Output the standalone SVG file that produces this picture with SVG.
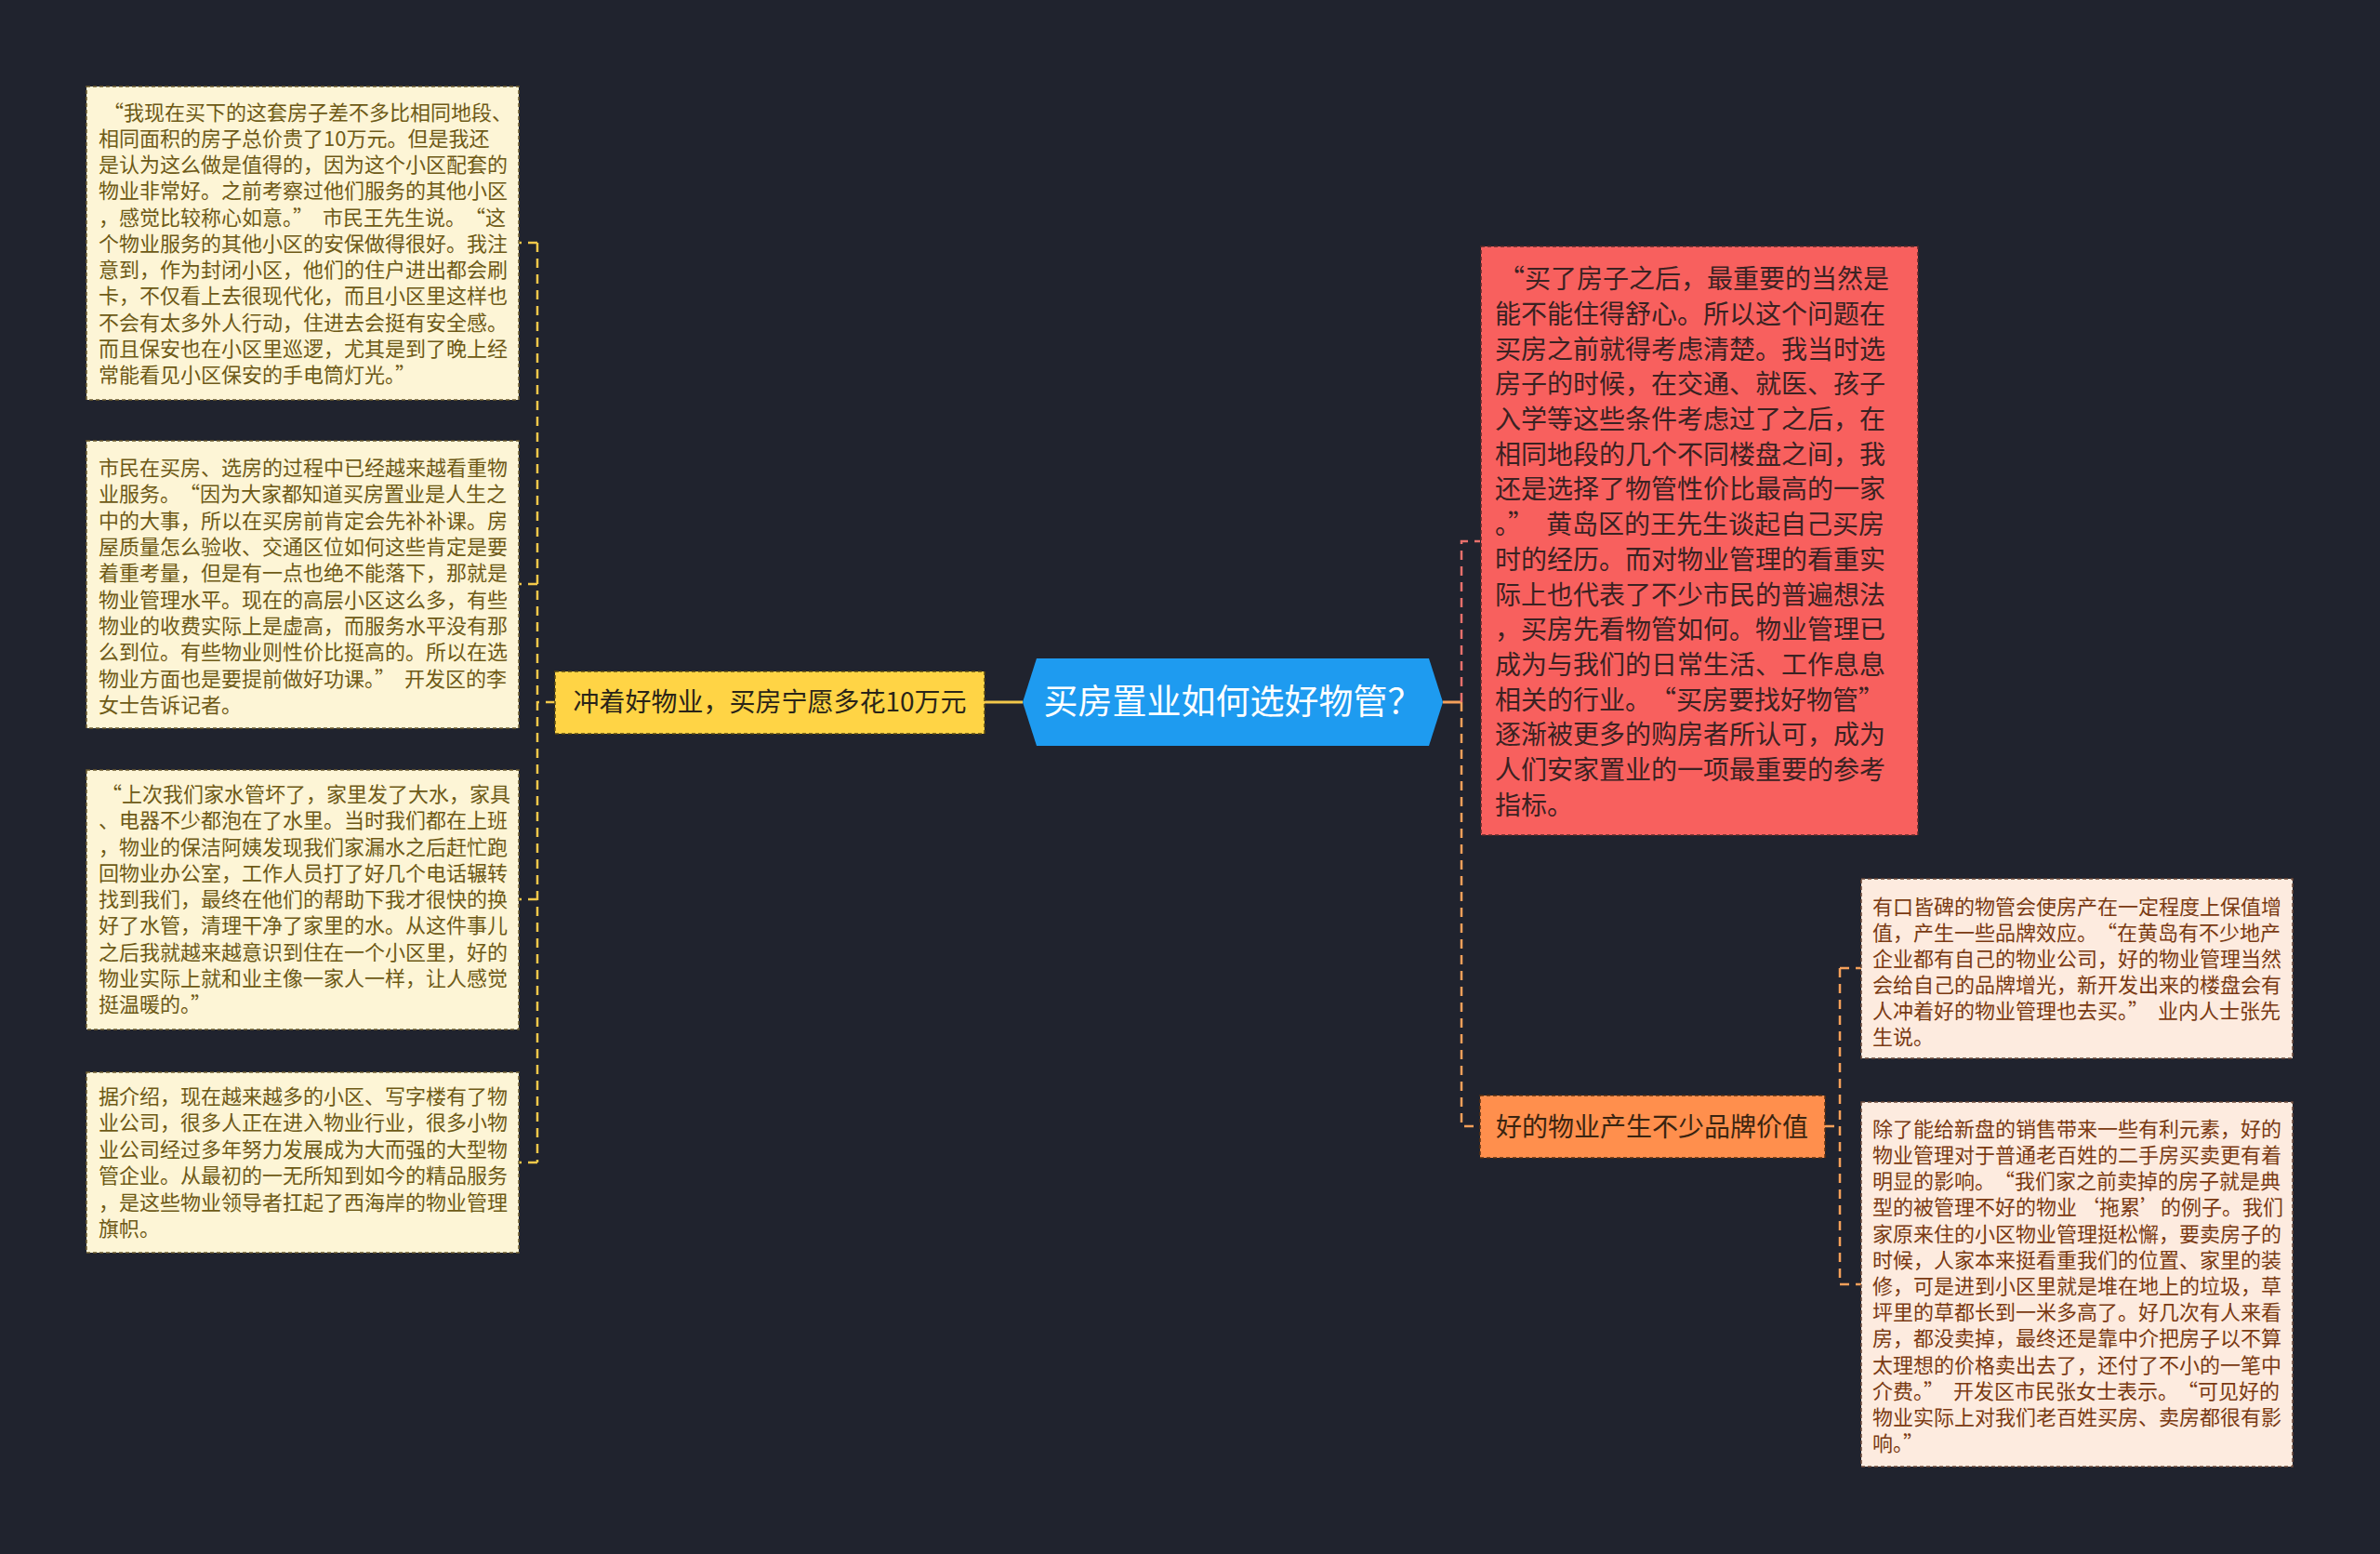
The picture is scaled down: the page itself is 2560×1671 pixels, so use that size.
<svg xmlns="http://www.w3.org/2000/svg" width="2560" height="1671" viewBox="0 0 2560 1671">
<style>
text{font-family:"Noto Sans CJK SC","Noto Sans",sans-serif;}
.lt{font-size:22px;fill:#6e5a16;}
.rt{font-size:22px;fill:#7a3a12;}
.redt{font-size:28px;fill:#3b2222;}
.lbox{fill:#fdf5d6;stroke:#6b5b2e;stroke-width:1.5;stroke-dasharray:4 3;}
.rbox{fill:#fdebdf;stroke:#6b4a3a;stroke-width:1.5;stroke-dasharray:4 3;}
.cy{fill:none;stroke:#f2c84a;stroke-width:2.5;stroke-dasharray:10 7;}
.cr{fill:none;stroke:#e8706c;stroke-width:2.5;stroke-dasharray:10 7;}
.co{fill:none;stroke:#f5a05a;stroke-width:2.5;stroke-dasharray:10 7;}
</style>
<rect x="0" y="0" width="2560" height="1671" fill="#20232e"/>
<g id="connectors">
<line x1="1059" y1="755" x2="1100" y2="755" stroke="#f2c84a" stroke-width="3"/>
<path class="cy" d="M597 755 H578"/>
<path class="cy" d="M578 261 V1250"/>
<path class="cy" d="M578 261 H558 M578 628 H558 M578 967 H558 M578 1250 H558"/>
<line x1="1552" y1="755" x2="1572" y2="755" stroke="#f5a05a" stroke-width="3"/>
<path class="cr" d="M1572 755 V582 H1592"/>
<path class="co" d="M1572 755 V1211 H1592"/>
<path class="co" d="M1963 1211 H1979 M1979 1041 V1381 M1979 1041 H2002 M1979 1381 H2002"/>
</g>
<g id="center">
<polygon points="1100,755 1115,708 1537,708 1552,755 1537,802 1115,802" fill="#1e9bf0"/>
<text x="1326" y="768" font-size="37" fill="#ffffff" text-anchor="middle">买房置业如何选好物管？</text>
</g>
<g id="yellow">
<rect x="597" y="722" width="462" height="67" fill="#ffd445" stroke="#5a4a10" stroke-width="1.5" stroke-dasharray="4 3"/>
<text x="828" y="765" font-size="28" fill="#2a2418" text-anchor="middle">冲着好物业，买房宁愿多花10万元</text>
</g>
<g id="left1">
<rect class="lbox" x="93" y="93" width="465" height="337"/>
<text class="lt"><tspan x="106" y="129"><tspan dx="5">“</tspan>我现在买下的这套房子差不多比相同地段、</tspan><tspan x="106" y="157">相同面积的房子总价贵了10万元。但是我还</tspan><tspan x="106" y="185">是认为这么做是值得的，因为这个小区配套的</tspan><tspan x="106" y="213">物业非常好。之前考察过他们服务的其他小区</tspan><tspan x="106" y="242">，感觉比较称心如意。”<tspan dx="10">市</tspan>民王先生说。<tspan dx="10">“</tspan>这</tspan><tspan x="106" y="270">个物业服务的其他小区的安保做得很好。我注</tspan><tspan x="106" y="298">意到，作为封闭小区，他们的住户进出都会刷</tspan><tspan x="106" y="326">卡，不仅看上去很现代化，而且小区里这样也</tspan><tspan x="106" y="355">不会有太多外人行动，住进去会挺有安全感。</tspan><tspan x="106" y="383">而且保安也在小区里巡逻，尤其是到了晚上经</tspan><tspan x="106" y="411">常能看见小区保安的手电筒灯光。”</tspan></text>
</g>
<g id="left2">
<rect class="lbox" x="93" y="474" width="465" height="309"/>
<text class="lt"><tspan x="106" y="511">市民在买房、选房的过程中已经越来越看重物</tspan><tspan x="106" y="539">业服务。<tspan dx="10">“</tspan>因为大家都知道买房置业是人生之</tspan><tspan x="106" y="568">中的大事，所以在买房前肯定会先补补课。房</tspan><tspan x="106" y="596">屋质量怎么验收、交通区位如何这些肯定是要</tspan><tspan x="106" y="624">着重考量，但是有一点也绝不能落下，那就是</tspan><tspan x="106" y="653">物业管理水平。现在的高层小区这么多，有些</tspan><tspan x="106" y="681">物业的收费实际上是虚高，而服务水平没有那</tspan><tspan x="106" y="709">么到位。有些物业则性价比挺高的。所以在选</tspan><tspan x="106" y="738">物业方面也是要提前做好功课。”<tspan dx="10">开</tspan>发区的李</tspan><tspan x="106" y="766">女士告诉记者。</tspan></text>
</g>
<g id="left3">
<rect class="lbox" x="93" y="828" width="465" height="279"/>
<text class="lt"><tspan x="106" y="862"><tspan dx="3">“</tspan>上次我们家水管坏了，家里发了大水，家具</tspan><tspan x="106" y="890">、电器不少都泡在了水里。当时我们都在上班</tspan><tspan x="106" y="919">，物业的保洁阿姨发现我们家漏水之后赶忙跑</tspan><tspan x="106" y="947">回物业办公室，工作人员打了好几个电话辗转</tspan><tspan x="106" y="975">找到我们，最终在他们的帮助下我才很快的换</tspan><tspan x="106" y="1003">好了水管，清理干净了家里的水。从这件事儿</tspan><tspan x="106" y="1032">之后我就越来越意识到住在一个小区里，好的</tspan><tspan x="106" y="1060">物业实际上就和业主像一家人一样，让人感觉</tspan><tspan x="106" y="1088">挺温暖的。”</tspan></text>
</g>
<g id="left4">
<rect class="lbox" x="93" y="1153" width="465" height="194"/>
<text class="lt"><tspan x="106" y="1187">据介绍，现在越来越多的小区、写字楼有了物</tspan><tspan x="106" y="1215">业公司，很多人正在进入物业行业，很多小物</tspan><tspan x="106" y="1244">业公司经过多年努力发展成为大而强的大型物</tspan><tspan x="106" y="1272">管企业。从最初的一无所知到如今的精品服务</tspan><tspan x="106" y="1301">，是这些物业领导者扛起了西海岸的物业管理</tspan><tspan x="106" y="1329">旗帜。</tspan></text>
</g>
<g id="red">
<rect x="1593" y="265" width="470" height="633" fill="#f8605e" stroke="#5a2a2a" stroke-width="1.5" stroke-dasharray="4 3"/>
<text class="redt"><tspan x="1608" y="310"><tspan dx="4">“</tspan>买了房子之后，最重要的当然是</tspan><tspan x="1608" y="348">能不能住得舒心。所以这个问题在</tspan><tspan x="1608" y="386">买房之前就得考虑清楚。我当时选</tspan><tspan x="1608" y="423">房子的时候，在交通、就医、孩子</tspan><tspan x="1608" y="461">入学等这些条件考虑过了之后，在</tspan><tspan x="1608" y="499">相同地段的几个不同楼盘之间，我</tspan><tspan x="1608" y="536">还是选择了物管性价比最高的一家</tspan><tspan x="1608" y="574">。”<tspan dx="13">黄</tspan>岛区的王先生谈起自己买房</tspan><tspan x="1608" y="612">时的经历。而对物业管理的看重实</tspan><tspan x="1608" y="650">际上也代表了不少市民的普遍想法</tspan><tspan x="1608" y="687">，买房先看物管如何。物业管理已</tspan><tspan x="1608" y="725">成为与我们的日常生活、工作息息</tspan><tspan x="1608" y="763">相关的行业。<tspan dx="13">“</tspan>买房要找好物管”</tspan><tspan x="1608" y="800">逐渐被更多的购房者所认可，成为</tspan><tspan x="1608" y="838">人们安家置业的一项最重要的参考</tspan><tspan x="1608" y="876">指标。</tspan></text>
</g>
<g id="orange">
<rect x="1592" y="1178" width="371" height="67" fill="#ff8f4d" stroke="#5a3010" stroke-width="1.5" stroke-dasharray="4 3"/>
<text x="1777" y="1222" font-size="28" fill="#3a2410" text-anchor="middle">好的物业产生不少品牌价值</text>
</g>
<g id="right1">
<rect class="rbox" x="2002" y="945" width="464" height="193"/>
<text class="rt"><tspan x="2014" y="983">有口皆碑的物管会使房产在一定程度上保值增</tspan><tspan x="2014" y="1011">值，产生一些品牌效应。<tspan dx="10">“</tspan>在黄岛有不少地产</tspan><tspan x="2014" y="1039">企业都有自己的物业公司，好的物业管理当然</tspan><tspan x="2014" y="1067">会给自己的品牌增光，新开发出来的楼盘会有</tspan><tspan x="2014" y="1095">人冲着好的物业管理也去买。”<tspan dx="10">业</tspan>内人士张先</tspan><tspan x="2014" y="1123">生说。</tspan></text>
</g>
<g id="right2">
<rect class="rbox" x="2002" y="1185" width="464" height="392"/>
<text class="rt"><tspan x="2014" y="1222">除了能给新盘的销售带来一些有利元素，好的</tspan><tspan x="2014" y="1250">物业管理对于普通老百姓的二手房买卖更有着</tspan><tspan x="2014" y="1278">明显的影响。<tspan dx="10">“</tspan>我们家之前卖掉的房子就是典</tspan><tspan x="2014" y="1306">型的被管理不好的物业<tspan dx="2">‘</tspan>拖累’<tspan dx="0">的</tspan>例子。我们</tspan><tspan x="2014" y="1335">家原来住的小区物业管理挺松懈，要卖房子的</tspan><tspan x="2014" y="1363">时候，人家本来挺看重我们的位置、家里的装</tspan><tspan x="2014" y="1391">修，可是进到小区里就是堆在地上的垃圾，草</tspan><tspan x="2014" y="1419">坪里的草都长到一米多高了。好几次有人来看</tspan><tspan x="2014" y="1447">房，都没卖掉，最终还是靠中介把房子以不算</tspan><tspan x="2014" y="1476">太理想的价格卖出去了，还付了不小的一笔中</tspan><tspan x="2014" y="1504">介费。”<tspan dx="10">开</tspan>发区市民张女士表示。<tspan dx="10">“</tspan>可见好的</tspan><tspan x="2014" y="1532">物业实际上对我们老百姓买房、卖房都很有影</tspan><tspan x="2014" y="1560">响。”</tspan></text>
</g>
</svg>
